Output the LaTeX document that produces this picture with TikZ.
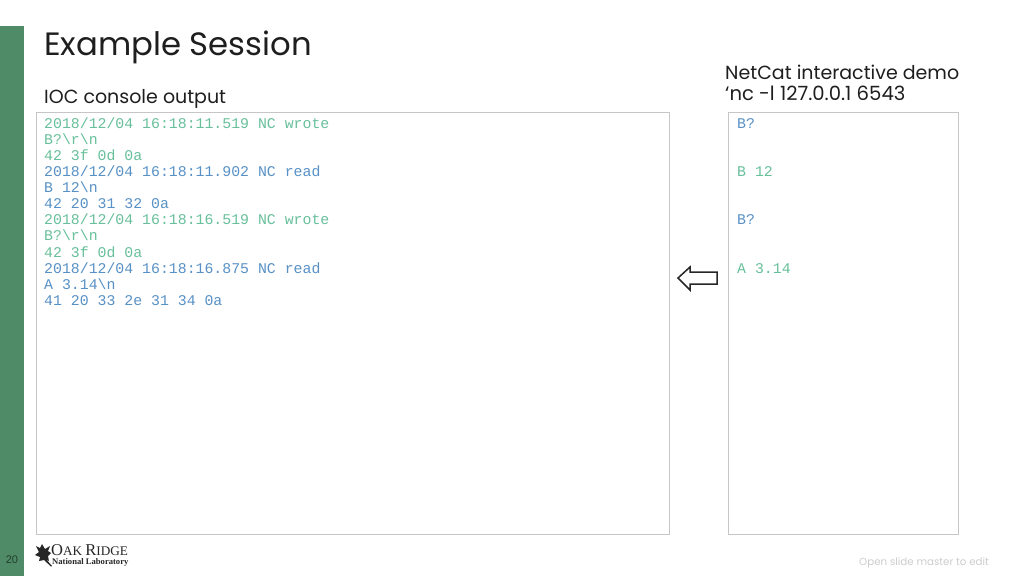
\documentclass[tikz,border=0pt]{standalone}
\usepackage{fontspec}
\setmainfont{Poppins}
\setmonofont{Liberation Mono}
\newfontfamily\logoFont{Liberation Serif}
\newfontfamily\arialFont{Liberation Sans}
\usetikzlibrary{positioning}
\tikzstyle{slide} = [x = 1pt, y = -1pt]
\definecolor{barColor}{RGB}{78,139,102}
\definecolor{panelColor}{RGB}{198,198,198}
\definecolor{wroteColor}{RGB}{104,192,155}
\definecolor{readColor}{RGB}{88,145,198}
\definecolor{titleColor}{RGB}{30,30,30}
\tikzstyle{panelStyle} = [draw=panelColor, line width=1pt, fill=white]
\tikzstyle{headText} = [anchor=base west, inner sep=0, text=titleColor, font=\fontsize{19}{24}\selectfont]
\tikzstyle{consoleText} = [anchor=base west, inner sep=0, font=\ttfamily\fontsize{14.85}{16}\selectfont]
\tikzstyle{arrowStyle} = [draw=black!85, line width=1.5pt, fill=white, line join=miter]
\newcommand{\lineY}[1]{128 + 16.14 * #1}
\newcommand{\consoleLine}[5]{\node [consoleText, text=#4] (#1) at (#2, {\lineY{#3}}) {#5};}
\begin{document}
\begin{tikzpicture}[slide]
  \useasboundingbox (0,0) rectangle (1024,576);
  \fill [barColor] (0,26) rectangle (24,576);
  \node [inner sep=0, text=barColor!45!black, font=\arialFont\fontsize{11}{12}\selectfont] (pageNumber) at (12,560) {20};
  \node [headText, font=\fontsize{32.3}{40}\selectfont] (title) at (44,55.5) {Example Session};
  \node [headText] (consoleHead) at (44,103.5) {IOC console output};
  \node [headText] (netcatHead) at (725,79) {NetCat interactive demo};
  \node [headText, font=\fontsize{19.6}{24}\selectfont] (netcatCommand) at (725,100) {‘nc -l 127.0.0.1 6543};
  \filldraw [panelStyle] (36,112) rectangle (669,534);
  \filldraw [panelStyle] (728.5,112) rectangle (958,534);
  % console output
  \consoleLine{logA}{44}{0}{wroteColor}{2018/12/04 16:18:11.519 NC wrote}
  \consoleLine{logB}{44}{1}{wroteColor}{B?\textbackslash r\textbackslash n}
  \consoleLine{logC}{44}{2}{wroteColor}{42 3f 0d 0a}
  \consoleLine{logD}{44}{3}{readColor}{2018/12/04 16:18:11.902 NC read}
  \consoleLine{logE}{44}{4}{readColor}{B 12\textbackslash n}
  \consoleLine{logF}{44}{5}{readColor}{42 20 31 32 0a}
  \consoleLine{logG}{44}{6}{wroteColor}{2018/12/04 16:18:16.519 NC wrote}
  \consoleLine{logH}{44}{7}{wroteColor}{B?\textbackslash r\textbackslash n}
  \consoleLine{logI}{44}{8}{wroteColor}{42 3f 0d 0a}
  \consoleLine{logJ}{44}{9}{readColor}{2018/12/04 16:18:16.875 NC read}
  \consoleLine{logK}{44}{10}{readColor}{A 3.14\textbackslash n}
  \consoleLine{logL}{44}{11}{readColor}{41 20 33 2e 31 34 0a}
  % netcat side
  \consoleLine{netA}{737}{0}{readColor}{B?}
  \consoleLine{netB}{737}{3}{wroteColor}{B 12}
  \consoleLine{netC}{737}{6}{readColor}{B?}
  \consoleLine{netD}{737}{9}{wroteColor}{A 3.14}
  \draw [arrowStyle] (678,278) -- (690,267) -- (690,272) -- (717,272) -- (717,284) -- (690,284) -- (690,290) -- cycle;
  % logo
  \fill [black!85] (36,546) -- (40,548) -- (42,544) -- (45,549) -- (50,546) -- (48,551) -- (51,553) -- (48,556) -- (49,561) -- (46,559) -- (52,566) -- (51,566.5) -- (44,560) -- (39,561) -- (40,557) -- (35,555) -- (39,552) -- cycle;
  \node [anchor=base west, inner sep=0, text=black!85, font=\logoFont\fontsize{16.5}{16}\selectfont] (logoOak) at (51,555) {O\fontsize{13.2}{13}\selectfont AK \fontsize{16.5}{16}\selectfont R\fontsize{13.2}{13}\selectfont IDGE};
  \node [anchor=base west, inner sep=0, text=black!85, font=\logoFont\bfseries\fontsize{8.6}{9}\selectfont] (logoLab) at (52,564) {National Laboratory};
  \node [anchor=base west, inner sep=0, text=black!20, font=\fontsize{10.3}{12}\selectfont] (masterNote) at (859,565) {Open slide master to edit};
\end{tikzpicture}
\end{document}
